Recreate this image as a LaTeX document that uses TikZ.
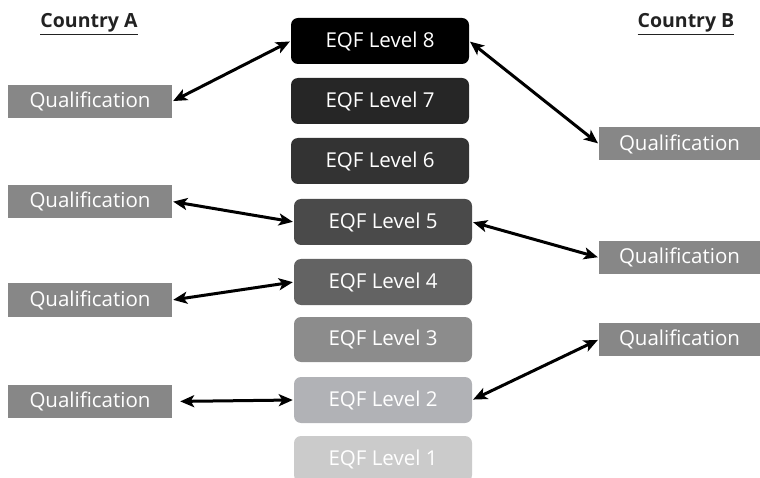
\documentclass[tikz,border=0pt]{standalone}
\usepackage{fontspec}
\setmainfont{Open Sans}
\usetikzlibrary{arrows.meta}
\definecolor{c8}{HTML}{000000}
\definecolor{c7}{HTML}{262626}
\definecolor{c6}{HTML}{333333}
\definecolor{c5}{HTML}{4A4A4A}
\definecolor{c4}{HTML}{636363}
\definecolor{c3}{HTML}{8C8C8C}
\definecolor{c2}{HTML}{B1B2B6}
\definecolor{c1}{HTML}{CBCBCB}
\definecolor{qual}{HTML}{878787}
\definecolor{hdr}{HTML}{222222}
\begin{document}
\begin{tikzpicture}[x=1pt,y=-1pt,
  lvl/.style={rounded corners=7pt, inner sep=0pt, minimum width=178pt, minimum height=46pt,
    text=white, font=\fontsize{20.5}{24}\selectfont},
  qbox/.style={fill=qual, inner sep=0pt, minimum height=33pt, text=white,
    font=\fontsize{20.5}{24}\selectfont},
  hdrtext/.style={text=hdr, font=\bfseries\fontsize{19.5}{23}\selectfont, inner sep=0pt, anchor=base},
  link/.style={line width=3pt, {Stealth[length=14pt,width=12pt,inset=3.5pt]}-{Stealth[length=14pt,width=12pt,inset=3.5pt]}}
]
\useasboundingbox (0,0) rectangle (760,478);
\node[hdrtext] (ca) at (89,28) {\underline{Country A}};
\node[hdrtext] (cb) at (686,28) {\underline{Country B}};

\node[lvl, fill=c8] (l8) at (380,41) {EQF Level 8};
\node[lvl, fill=c7] (l7) at (380,101) {EQF Level 7};
\node[lvl, fill=c6] (l6) at (380,161) {EQF Level 6};
\node[lvl, fill=c5] (l5) at (383,222) {EQF Level 5};
\node[lvl, fill=c4] (l4) at (383,282) {EQF Level 4};
\node[lvl, fill=c3, minimum height=45pt] (l3) at (383,339.5) {EQF Level 3};
\node[lvl, fill=c2] (l2) at (383,400) {EQF Level 2};
\node[lvl, fill=c1] (l1) at (383,459) {EQF Level 1};

\node[qbox, minimum width=164pt] (qa1) at (90,101.5) {Qualification};
\node[qbox, minimum width=164pt] (qa2) at (90,201.5) {Qualification};
\node[qbox, minimum width=164pt] (qa3) at (90,300) {Qualification};
\node[qbox, minimum width=164pt] (qa4) at (90,401.5) {Qualification};
\node[qbox, minimum width=161pt] (qb1) at (679.5,144) {Qualification};
\node[qbox, minimum width=161pt] (qb2) at (679.5,257.5) {Qualification};
\node[qbox, minimum width=161pt] (qb3) at (679.5,339.5) {Qualification};

\draw[link, shorten <=1pt, shorten >=1pt] (qa1.east) -- (l8.west);
\draw[link, shorten <=1pt, shorten >=1pt] (l8.east) -- (qb1.west);
\draw[link, shorten <=1pt, shorten >=1pt] (qa2.east) -- (l5.west);
\draw[link, shorten <=1pt, shorten >=1pt] (l5.east) -- (qb2.west);
\draw[link, shorten <=1pt, shorten >=1pt] (qa3.east) -- (l4.west);
\draw[link, shorten <=8pt, shorten >=1pt] (qa4.east) -- (l2.west);
\draw[link, shorten <=1pt, shorten >=1pt] (l2.east) -- (qb3.west);
\end{tikzpicture}
\end{document}
